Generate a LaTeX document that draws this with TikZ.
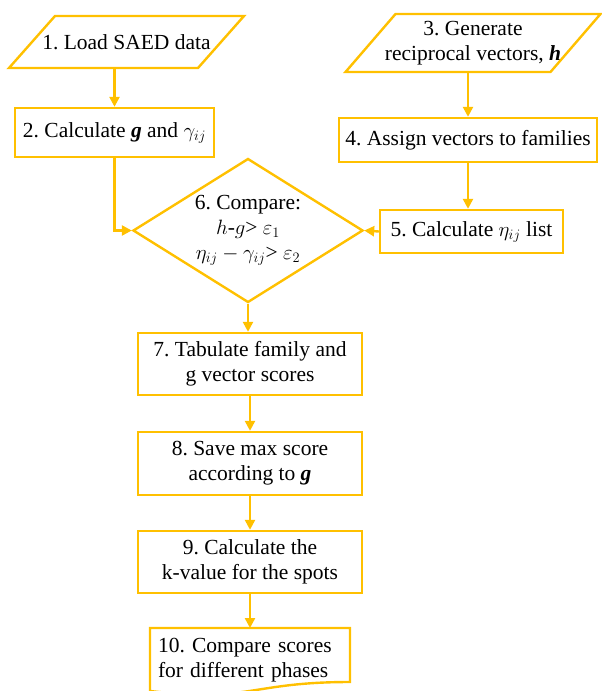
\documentclass[tikz,border=0pt]{standalone}
\usepackage{fontspec}
\setmainfont{Liberation Serif}
\usetikzlibrary{calc,positioning,shapes.geometric,arrows.meta}
\definecolor{flowgold}{RGB}{255,192,0}

\begin{document}
\begin{tikzpicture}[
    x=1pt,y=1pt,
    line width=2.4pt,
    every node/.style={font=\fontsize{21.5}{25}\selectfont\frenchspacing},
    box/.style={draw=flowgold,rectangle,inner sep=2pt,align=center},
    io/.style={rectangle,inner sep=0pt,outer sep=0pt,align=center},
    flow/.style={draw=flowgold,line join=miter},
    link/.style={flowgold,-{Triangle[length=10pt,width=10pt]}},
  ]

  \useasboundingbox (0,0) rectangle (602,-691);

  \node (load) at (126.5,-42) [io,minimum width=189,minimum height=52] {1. Load SAED data};
  \draw[flow] ([xshift=23]load.north west) -- ([xshift=23]load.north east) -- ([xshift=-23]load.south east) -- ([xshift=-23]load.south west) -- cycle;

  \node (calc) at (114.5,-132.5) [box,minimum width=199,minimum height=49] {2. Calculate \textbf{\textit{g}} and $\gamma_{ij}$};

  \node (gen) at (473,-43) [io,minimum width=205,minimum height=58] {3. Generate\\reciprocal vectors, \textbf{\textit{h}}};
  \draw[flow] ([xshift=25]gen.north west) -- ([xshift=25]gen.north east) -- ([xshift=-25]gen.south east) -- ([xshift=-25]gen.south west) -- cycle;

  \node (assign) at (468,-140) [box,minimum width=258,minimum height=44] {4. Assign vectors to families};
  \node (eta) at (471.5,-231.5) [box,minimum width=183,minimum height=43] {5. Calculate $\eta_{ij}$ list};

  \node (cmp) at (248,-230.5) [diamond,draw=flowgold,minimum width=230,minimum height=144,inner sep=0pt] {};
  \node (cmptxt) at (cmp.center) [align=center] {6. Compare:\\$h$-$g$> $\varepsilon_1$\\$\eta_{ij}-\gamma_{ij}$> $\varepsilon_2$};

  \node (tab) at (250,-364) [box,minimum width=224,minimum height=62] {7. Tabulate family and\\g vector scores};
  \node (save) at (250,-463.5) [box,minimum width=224,minimum height=63] {8. Save max score\\according to \textbf{\textit{g}}};
  \node (kval) at (250,-562) [box,minimum width=224,minimum height=62] {9. Calculate the\\k-value for the spots};

  \node (phase) at (150,-628) [io,anchor=north west,inner xsep=8pt,text width=184,minimum height=64,align=left] {10. Compare scores\\for different phases};
  \draw[flow] (phase.north west) -- (phase.north east) -- ([yshift=10]phase.south east) .. controls +(-100,0) and +(100,-11.8) .. ([yshift=1]phase.south west) -- cycle;

  \draw[link] (calc.north |- load.south) -- (calc.north);
  \draw[link] (calc.south) |- (cmp.west);
  \draw[link] (assign.north |- gen.south) -- (assign.north);
  \draw[link] (assign.south) -- (assign.south |- eta.north);
  \draw[link] (eta.west) -- (cmp.east);
  \draw[link] (cmp.south) -- (cmp.south |- tab.north);
  \draw[link] (tab.south) -- (tab.south |- save.north);
  \draw[link] (save.south) -- (save.south |- kval.north);
  \draw[link] (kval.south) -- (kval.south |- phase.north);

\end{tikzpicture}
\end{document}
